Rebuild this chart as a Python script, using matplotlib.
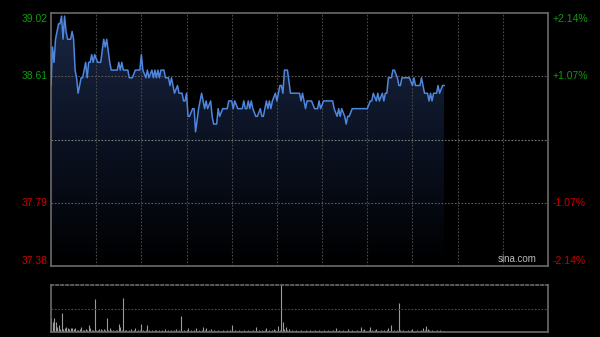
import numpy as np
import matplotlib
matplotlib.use("Agg")
import matplotlib.pyplot as plt
from matplotlib.colors import LinearSegmentedColormap
import matplotlib.transforms as mtransforms

plt.rcParams['font.family'] = ['Liberation Sans', 'DejaVu Sans']

# 分时数据 (minute index from open, price)
price_min = [0, 1, 2, 3, 5, 6, 7, 8, 9, 10, 11, 13, 14, 15, 16, 17, 18, 20, 21, 23,
             24, 25, 26, 27, 28, 29, 31, 33, 35, 36, 37, 39, 40, 44, 45, 46, 47, 48, 51, 52,
             54, 56, 59, 60, 61, 63, 64, 65, 67, 68, 69, 70, 71, 72, 73, 75, 76, 78, 79, 80,
             81, 82, 84, 85, 87, 88, 89, 90, 91, 92, 94, 95, 96, 98, 99, 100, 102, 103, 104, 106,
             107, 108, 110, 111, 112, 114, 117, 118, 120, 121, 122, 124, 127, 128, 129, 130, 131, 132, 133, 134,
             136, 137, 139, 140, 141, 142, 143, 144, 145, 146, 147, 149, 150, 151, 152, 153, 154, 155, 157, 159,
             161, 165, 166, 167, 169, 170, 173, 175, 177, 178, 179, 181, 187, 188, 190, 191, 192, 193, 195, 196,
             197, 198, 200, 210, 212, 213, 214, 216, 217, 218, 220, 221, 222, 223, 224, 226, 227, 228, 230, 231,
             232, 233, 237, 238, 240, 241, 242, 245, 246, 248, 250, 251, 252, 253, 254, 256, 257, 258, 260, 261]
price_val = [38.55, 38.80, 38.70, 38.85, 38.95, 38.95, 39.00, 38.85, 39.00, 38.90, 38.85, 38.85, 38.90, 38.85, 38.65, 38.60, 38.50, 38.60, 38.60, 38.70,
             38.60, 38.70, 38.70, 38.75, 38.70, 38.75, 38.70, 38.70, 38.85, 38.80, 38.85, 38.70, 38.65, 38.65, 38.70, 38.65, 38.70, 38.65, 38.65, 38.60,
             38.60, 38.65, 38.65, 38.75, 38.65, 38.60, 38.65, 38.60, 38.65, 38.60, 38.65, 38.60, 38.65, 38.60, 38.65, 38.65, 38.60, 38.60, 38.55, 38.60,
             38.55, 38.50, 38.55, 38.50, 38.50, 38.45, 38.45, 38.50, 38.35, 38.35, 38.40, 38.40, 38.25, 38.40, 38.45, 38.50, 38.40, 38.45, 38.40, 38.45,
             38.35, 38.30, 38.30, 38.40, 38.35, 38.40, 38.40, 38.45, 38.45, 38.40, 38.45, 38.40, 38.40, 38.45, 38.40, 38.40, 38.45, 38.40, 38.45, 38.40,
             38.35, 38.35, 38.40, 38.35, 38.35, 38.40, 38.45, 38.40, 38.45, 38.40, 38.45, 38.50, 38.45, 38.50, 38.55, 38.55, 38.50, 38.65, 38.65, 38.50,
             38.50, 38.50, 38.45, 38.50, 38.40, 38.45, 38.45, 38.40, 38.40, 38.45, 38.40, 38.45, 38.45, 38.40, 38.35, 38.40, 38.35, 38.40, 38.35, 38.30,
             38.35, 38.35, 38.40, 38.40, 38.45, 38.45, 38.50, 38.45, 38.50, 38.45, 38.50, 38.45, 38.50, 38.50, 38.60, 38.60, 38.65, 38.65, 38.60, 38.55,
             38.55, 38.60, 38.60, 38.60, 38.55, 38.60, 38.55, 38.55, 38.60, 38.50, 38.50, 38.45, 38.50, 38.45, 38.50, 38.50, 38.55, 38.50, 38.55, 38.55]

volume = [14, 10, 14, 10, 5, 7, 3, 19, 3, 4, 5, 4, 3, 4, 4, 3, 4, 2, 2, 3,
          5, 2, 2, 3, 2, 7, 4, 2, 2, 33, 2, 2, 3, 3, 2, 3, 2, 14, 2, 4,
          2, 2, 1, 2, 2, 8, 5, 2, 34, 2, 2, 1, 2, 3, 1, 2, 4, 1, 2, 2,
          8, 2, 1, 2, 7, 2, 1, 2, 1, 2, 2, 1, 2, 1, 2, 1, 3, 1, 2, 1,
          2, 1, 2, 3, 1, 2, 16, 1, 2, 1, 2, 4, 1, 2, 1, 2, 4, 1, 2, 1,
          2, 5, 2, 4, 1, 2, 3, 1, 2, 1, 1, 2, 1, 1, 2, 1, 1, 2, 1, 2,
          7, 1, 2, 1, 1, 2, 1, 1, 2, 1, 1, 2, 1, 1, 2, 1, 5, 1, 2, 1,
          2, 1, 2, 4, 1, 2, 1, 2, 3, 2, 1, 6, 2, 47, 10, 3, 5, 2, 3, 1,
          2, 1, 1, 2, 1, 1, 2, 1, 1, 2, 1, 1, 2, 1, 1, 2, 1, 1, 2, 1,
          1, 2, 1, 1, 2, 1, 1, 2, 1, 4, 1, 2, 1, 1, 2, 1, 1, 3, 1, 1,
          2, 1, 1, 2, 1, 1, 5, 2, 3, 1, 1, 2, 5, 2, 1, 2, 3, 1, 1, 2,
          1, 2, 1, 2, 4, 1, 7, 1, 2, 1, 2, 29, 2, 1, 2, 1, 1, 2, 1, 2,
          3, 1, 1, 2, 1, 1, 2, 4, 2, 6, 3, 2, 1, 2, 1, 1, 2, 1, 2, 1,
          1, 1]

prev_close = 38.20
price_ticks = [39.02, 38.61, 37.79, 37.38]
pct_labels = ['+2.14%', '+1.07%', '-1.07%', '-2.14%']
total_minutes = 330

green = '#0f9a0f'
red = '#cc0000'
frame = '#6a6a6a'
grid = '#4a4a4a'

fig = plt.figure(figsize=(6, 3.37), dpi=100, facecolor='black')
ax = fig.add_axes([51 / 600, 1 - 266 / 337, 497 / 600, 253 / 337], facecolor='black')
axv = fig.add_axes([51 / 600, 1 - 332 / 337, 497 / 600, 47 / 337], facecolor='black')

ymin, ymax = price_ticks[-1], price_ticks[0]
ax.set_xlim(0, total_minutes)
ax.set_ylim(ymin, ymax)

# gradient fill under the price line
fill = ax.fill_between(price_min, price_val, ymin, facecolor='none', edgecolor='none')
cmap = LinearSegmentedColormap.from_list('fade', ['#000000', '#0b1222', '#1a2744'])
grad = np.linspace(0, 1, 256).reshape(-1, 1)
im = ax.imshow(grad, extent=[0, total_minutes, ymin, ymax], origin='lower',
               aspect='auto', cmap=cmap, zorder=1)
im.set_clip_path(fill.get_paths()[0], transform=ax.transData)

ax.plot(price_min, price_val, color='#4f86de', lw=1.1, zorder=3)

# grid
for m in range(30, total_minutes, 30):
    ax.axvline(m, color=grid, lw=0.8, ls=(0, (1.5, 1.5)), zorder=2)
for p in [price_ticks[1], price_ticks[2]]:
    ax.axhline(p, color='#5a5a5a', lw=0.8, ls=(0, (1.5, 1.5)), zorder=2)
ax.axhline(prev_close, color='#7a7a7a', lw=0.8, ls=(0, (1.5, 1.5)), zorder=2)

ax.set_xticks([])
ax.set_yticks([])
for s in ax.spines.values():
    s.set_color(frame)
    s.set_linewidth(1.2)

# edge labels sit a few pixels inside the frame
shifts = [-4.5, 0, 0, 3.8]
trans_l = mtransforms.blended_transform_factory(fig.transFigure, ax.transData)
for p, lab, dy in zip(price_ticks, pct_labels, shifts):
    c = green if p > prev_close else red
    tr = mtransforms.offset_copy(trans_l, fig=fig, y=dy, units='points')
    ax.text(48 / 600, p, f'{p:.2f}', transform=tr, ha='right', va='center',
            color=c, fontsize=7.5)
    ax.text(553 / 600, p, lab, transform=tr, ha='left', va='center',
            color=c, fontsize=7.5)

ax.text(0.978, 0.006, 'sina.com', transform=ax.transAxes, ha='right', va='bottom',
        color='#bbbbbb', fontsize=7, zorder=5)

# volume panel
axv.set_xlim(0, total_minutes)
axv.set_ylim(0, max(volume))
axv.vlines(np.arange(len(volume)), 0, volume, color='#9a9a9a', lw=0.8)
axv.axhline(max(volume) / 2, color=grid, lw=0.8, ls=(0, (1.5, 1.5)))
axv.set_xticks([])
axv.set_yticks([])
for name, s in axv.spines.items():
    s.set_color(frame)
    s.set_linewidth(1.2)
axv.spines['top'].set_linestyle((0, (1.5, 1.5)))

fig.savefig('out.png', dpi=100, facecolor='black')
